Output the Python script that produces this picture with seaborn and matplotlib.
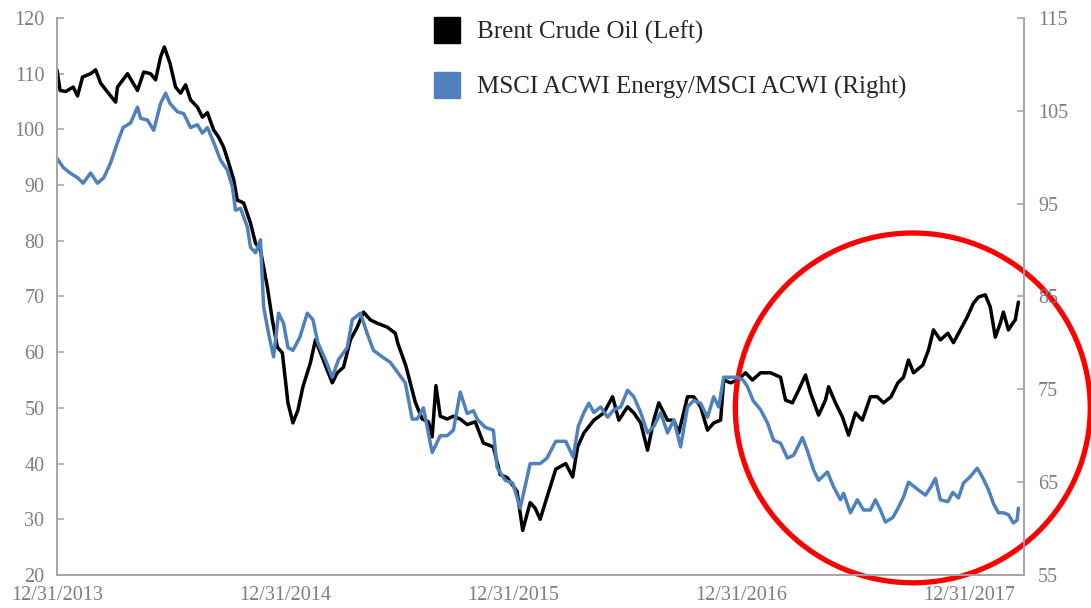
import matplotlib
matplotlib.use("Agg")
import matplotlib.pyplot as plt
from matplotlib.lines import Line2D
from matplotlib.patches import Ellipse
import pandas as pd
import seaborn as sns

# Brent crude oil, USD/bbl (left axis)
brent_dates = [
    "2013-12-31", "2014-01-05", "2014-01-14", "2014-01-26", "2014-02-02", "2014-02-10", "2014-02-23",
    "2014-03-03", "2014-03-11", "2014-03-22", "2014-04-04", "2014-04-07", "2014-04-23", "2014-05-09",
    "2014-05-19", "2014-05-30", "2014-06-07", "2014-06-15", "2014-06-21", "2014-06-30", "2014-07-09",
    "2014-07-17", "2014-07-25", "2014-08-02", "2014-08-13", "2014-08-21", "2014-08-29", "2014-09-08",
    "2014-09-16", "2014-09-24", "2014-10-02", "2014-10-10", "2014-10-16", "2014-10-26", "2014-11-06",
    "2014-11-14", "2014-11-22", "2014-12-03", "2014-12-11", "2014-12-19", "2014-12-27",
    "2015-01-05", "2015-01-13", "2015-01-21", "2015-01-29", "2015-02-10", "2015-02-18", "2015-02-26",
    "2015-03-09", "2015-03-17", "2015-03-25", "2015-04-04", "2015-04-15", "2015-04-26", "2015-05-06",
    "2015-05-17", "2015-05-28", "2015-06-13", "2015-06-26", "2015-06-30", "2015-07-13", "2015-07-28",
    "2015-08-08", "2015-08-18", "2015-08-24", "2015-08-30", "2015-09-06", "2015-09-17", "2015-09-27",
    "2015-10-08", "2015-10-19", "2015-11-01", "2015-11-14", "2015-11-30", "2015-12-11", "2015-12-22",
    "2016-01-07", "2016-01-16", "2016-01-28", "2016-02-05", "2016-02-13", "2016-02-24", "2016-03-09",
    "2016-03-25", "2016-04-05", "2016-04-13", "2016-04-23", "2016-05-09", "2016-05-25", "2016-06-08",
    "2016-06-18", "2016-07-02", "2016-07-12", "2016-07-23", "2016-08-03", "2016-08-13", "2016-08-21",
    "2016-09-04", "2016-09-14", "2016-09-22", "2016-10-06", "2016-10-16", "2016-10-27", "2016-11-07",
    "2016-11-17", "2016-11-28", "2016-12-03", "2016-12-14", "2016-12-25",
    "2017-01-07", "2017-01-18", "2017-01-31", "2017-02-16", "2017-03-04", "2017-03-12", "2017-03-23",
    "2017-04-02", "2017-04-13", "2017-04-21", "2017-05-04", "2017-05-15", "2017-05-20", "2017-05-31",
    "2017-06-11", "2017-06-21", "2017-07-02", "2017-07-13", "2017-07-26", "2017-08-06", "2017-08-16",
    "2017-08-28", "2017-09-08", "2017-09-17", "2017-09-25", "2017-10-03", "2017-10-18", "2017-10-27",
    "2017-11-04", "2017-11-15", "2017-11-27", "2017-12-06", "2017-12-17", "2017-12-28",
    "2018-01-07", "2018-01-15", "2018-01-26", "2018-02-03", "2018-02-11", "2018-02-19", "2018-02-24",
    "2018-03-04", "2018-03-11", "2018-03-15", "2018-03-20",
]
brent_values = [
    110.7, 107.0, 106.8, 107.6, 106.0, 109.4, 110.0,
    110.7, 108.3, 106.7, 104.9, 107.6, 110.0, 107.0,
    110.3, 110.0, 108.9, 113.0, 114.8, 111.9, 107.6,
    106.5, 108.0, 105.3, 104.0, 102.2, 103.0, 99.9,
    98.6, 96.8, 94.0, 91.0, 87.3, 86.8, 83.2,
    79.6, 78.3, 71.7, 65.8, 60.9, 59.9,
    50.9, 47.3, 49.6, 53.8, 58.1, 62.2, 59.9,
    56.8, 54.5, 56.3, 57.3, 62.2, 64.5, 67.2,
    65.8, 65.2, 64.5, 63.4, 61.6, 57.5, 51.0,
    48.0, 47.5, 44.8, 54.0, 48.5, 48.0, 48.5,
    48.0, 47.0, 47.5, 43.7, 43.0, 38.0, 37.5,
    35.0, 28.0, 33.0, 32.0, 30.0, 34.0, 39.0,
    40.0, 37.6, 43.0, 45.5, 47.8, 49.1, 52.0,
    47.8, 50.2, 49.1, 47.3, 42.4, 47.8, 50.9,
    47.8, 47.8, 45.5, 52.0, 52.0, 50.2, 46.0,
    47.3, 47.8, 55.0, 54.5, 55.0,
    56.3, 55.0, 56.3, 56.3, 55.5, 51.4, 50.9,
    53.2, 55.9, 52.7, 48.7, 51.4, 53.8, 50.9,
    48.4, 45.1, 49.1, 47.8, 52.0, 52.0, 50.9,
    52.0, 54.5, 55.5, 58.6, 56.3, 57.7, 60.4,
    64.0, 62.2, 63.4, 61.7, 64.0, 66.3,
    68.8, 69.9, 70.3, 68.1, 62.7, 65.2, 67.2,
    64.0, 65.2, 65.8, 69.0,
]

# MSCI ACWI Energy / MSCI ACWI relative index (right axis)
ratio_dates = [
    "2013-12-31", "2014-01-10", "2014-01-21", "2014-02-02", "2014-02-11", "2014-02-23", "2014-03-06",
    "2014-03-16", "2014-03-27", "2014-04-07", "2014-04-16", "2014-04-28", "2014-05-09", "2014-05-14",
    "2014-05-25", "2014-06-04", "2014-06-15", "2014-06-23", "2014-06-30", "2014-07-12", "2014-07-22",
    "2014-08-02", "2014-08-13", "2014-08-21", "2014-08-29", "2014-09-08", "2014-09-19", "2014-09-30",
    "2014-10-08", "2014-10-13", "2014-10-21", "2014-11-01", "2014-11-06", "2014-11-14", "2014-11-22",
    "2014-11-27", "2014-12-05", "2014-12-13", "2014-12-21", "2014-12-29",
    "2015-01-05", "2015-01-13", "2015-01-24", "2015-02-05", "2015-02-14", "2015-02-22", "2015-03-06",
    "2015-03-17", "2015-03-27", "2015-04-10", "2015-04-18", "2015-05-01", "2015-05-12", "2015-05-22",
    "2015-06-05", "2015-06-18", "2015-06-30", "2015-07-12", "2015-07-23", "2015-07-31", "2015-08-10",
    "2015-08-24", "2015-09-06", "2015-09-17", "2015-09-27", "2015-10-08", "2015-10-19", "2015-10-29",
    "2015-11-04", "2015-11-17", "2015-11-30", "2015-12-06", "2015-12-19", "2015-12-31",
    "2016-01-12", "2016-01-28", "2016-02-13", "2016-02-24", "2016-03-09", "2016-03-25", "2016-04-06",
    "2016-04-14", "2016-04-23", "2016-05-01", "2016-05-09", "2016-05-20", "2016-05-31", "2016-06-10",
    "2016-06-21", "2016-07-02", "2016-07-12", "2016-07-23", "2016-08-03", "2016-08-13", "2016-08-24",
    "2016-09-04", "2016-09-14", "2016-09-25", "2016-10-06", "2016-10-16", "2016-10-27", "2016-11-07",
    "2016-11-17", "2016-11-25", "2016-12-03", "2016-12-14", "2016-12-25",
    "2017-01-03", "2017-01-10", "2017-01-19", "2017-01-31", "2017-02-11", "2017-02-21", "2017-03-04",
    "2017-03-15", "2017-03-25", "2017-04-08", "2017-04-16", "2017-04-26", "2017-05-04", "2017-05-18",
    "2017-05-28", "2017-06-08", "2017-06-13", "2017-06-24", "2017-07-05", "2017-07-15", "2017-07-26",
    "2017-08-03", "2017-08-11", "2017-08-19", "2017-08-31", "2017-09-09", "2017-09-17", "2017-09-25",
    "2017-10-10", "2017-10-22", "2017-10-31", "2017-11-07", "2017-11-15", "2017-11-27", "2017-12-05",
    "2017-12-14", "2017-12-22",
    "2018-01-02", "2018-01-13", "2018-01-21", "2018-01-31", "2018-02-08", "2018-02-16", "2018-02-24",
    "2018-03-04", "2018-03-12", "2018-03-18", "2018-03-20",
]
ratio_values = [
    99.9, 98.9, 98.3, 97.8, 97.2, 98.3, 97.2,
    97.8, 99.4, 101.6, 103.2, 103.7, 105.4, 104.2,
    104.0, 102.9, 105.8, 106.9, 105.8, 104.9, 104.7,
    103.2, 103.5, 102.6, 103.2, 101.6, 99.7, 98.6,
    96.8, 94.3, 94.5, 92.5, 90.3, 89.7, 91.1,
    83.9, 81.0, 78.5, 83.2, 82.1,
    79.5, 79.2, 80.6, 83.2, 82.5, 80.0, 78.2,
    76.3, 78.2, 79.5, 82.5, 83.2, 81.0, 79.2,
    78.5, 77.9, 76.8, 75.7, 71.8, 71.8, 73.0,
    68.2, 70.0, 70.0, 70.6, 74.7, 72.4, 72.7,
    71.8, 70.9, 70.6, 66.6, 65.2, 64.9,
    62.2, 67.0, 67.0, 67.6, 69.4, 69.4, 67.7,
    71.0, 72.5, 73.5, 72.5, 73.1, 72.0, 72.8,
    73.1, 74.9, 74.2, 72.5, 70.3, 71.0, 72.5,
    70.3, 71.7, 68.8, 73.1, 73.8, 73.5, 72.0,
    74.2, 73.1, 76.3, 76.3, 76.3,
    76.0, 75.3, 73.8, 72.8, 71.4, 69.5, 69.2,
    67.6, 67.9, 69.8, 68.4, 66.3, 65.2, 66.1,
    64.5, 63.1, 63.8, 61.7, 63.1, 62.0, 62.0,
    63.1, 62.0, 60.7, 61.2, 62.3, 63.4, 65.0,
    64.2, 63.6, 64.5, 65.4, 63.1, 62.9, 63.9,
    63.3, 64.9,
    65.6, 66.5, 65.6, 64.2, 62.7, 61.7, 61.7,
    61.5, 60.6, 60.9, 62.2,
]

tick_dates = ["2013-12-31", "2014-12-31", "2015-12-31", "2016-12-31", "2017-12-31"]
tick_labels = ["12/31/2013", "12/31/2014", "12/31/2015", "12/31/2016", "12/31/2017"]
left_ticks = list(range(20, 121, 10))
right_ticks = list(range(55, 116, 10))
legend_labels = ["Brent Crude Oil (Left)", "MSCI ACWI Energy/MSCI ACWI (Right)"]

BLACK = "#000000"
BLUE = "#4F81BD"
AXIS_GREY = "#A6A6A6"
TEXT_GREY = "#7F7F7F"

sns.set_style("white")
plt.rcParams["font.family"] = ["Liberation Serif", "DejaVu Serif"]

brent = pd.DataFrame({"date": pd.to_datetime(brent_dates), "value": brent_values})
ratio = pd.DataFrame({"date": pd.to_datetime(ratio_dates), "value": ratio_values})

fig = plt.figure(figsize=(10.91, 6.08), dpi=100)
ax = fig.add_axes([0.0522, 0.0543, 0.8864, 0.9161])
ax2 = ax.twinx()

sns.lineplot(data=brent, x="date", y="value", ax=ax, color=BLACK, linewidth=2.5)
sns.lineplot(data=ratio, x="date", y="value", ax=ax2, color=BLUE, linewidth=2.5)

ax.set_xlim(pd.Timestamp("2013-12-31"), pd.Timestamp("2018-03-29"))
ax.set_ylim(20, 120)
ax2.set_ylim(55, 115)
ax.set_xticks(pd.to_datetime(tick_dates))
ax.set_xticklabels(tick_labels)
ax.set_yticks(left_ticks)
ax2.set_yticks(right_ticks)
ax.set_xlabel("")
ax.set_ylabel("")
ax2.set_ylabel("")

for a in (ax, ax2):
    for side in ("left", "right", "bottom"):
        a.spines[side].set_color(AXIS_GREY)
        a.spines[side].set_linewidth(1.3)
    a.spines["top"].set_visible(False)
    a.tick_params(direction="in", length=5, width=1.2, color=AXIS_GREY,
                  labelcolor=TEXT_GREY, labelsize=14.5)
ax.tick_params(axis="y", pad=9)
ax.tick_params(axis="x", pad=8)
ax2.tick_params(axis="y", pad=10)

handles = [
    Line2D([], [], marker="s", linestyle="None", markersize=19,
           markerfacecolor=BLACK, markeredgecolor=BLACK),
    Line2D([], [], marker="s", linestyle="None", markersize=19,
           markerfacecolor=BLUE, markeredgecolor=BLUE),
]
fig.legend(handles, legend_labels, loc="upper left",
           bbox_to_anchor=(432 / 1091, 1 - 21 / 608), frameon=False,
           fontsize=18, handlelength=1.2, handletextpad=0.6,
           labelspacing=1.25, borderpad=0, borderaxespad=0)

# red highlight circle around the 2017 divergence
ax.add_patch(Ellipse((0.885, 0.300), 0.367, 0.628, transform=ax.transAxes,
                     fill=False, edgecolor="#FF0000", linewidth=3.8,
                     clip_on=False, zorder=10))

fig.savefig("out.png", dpi=100)
